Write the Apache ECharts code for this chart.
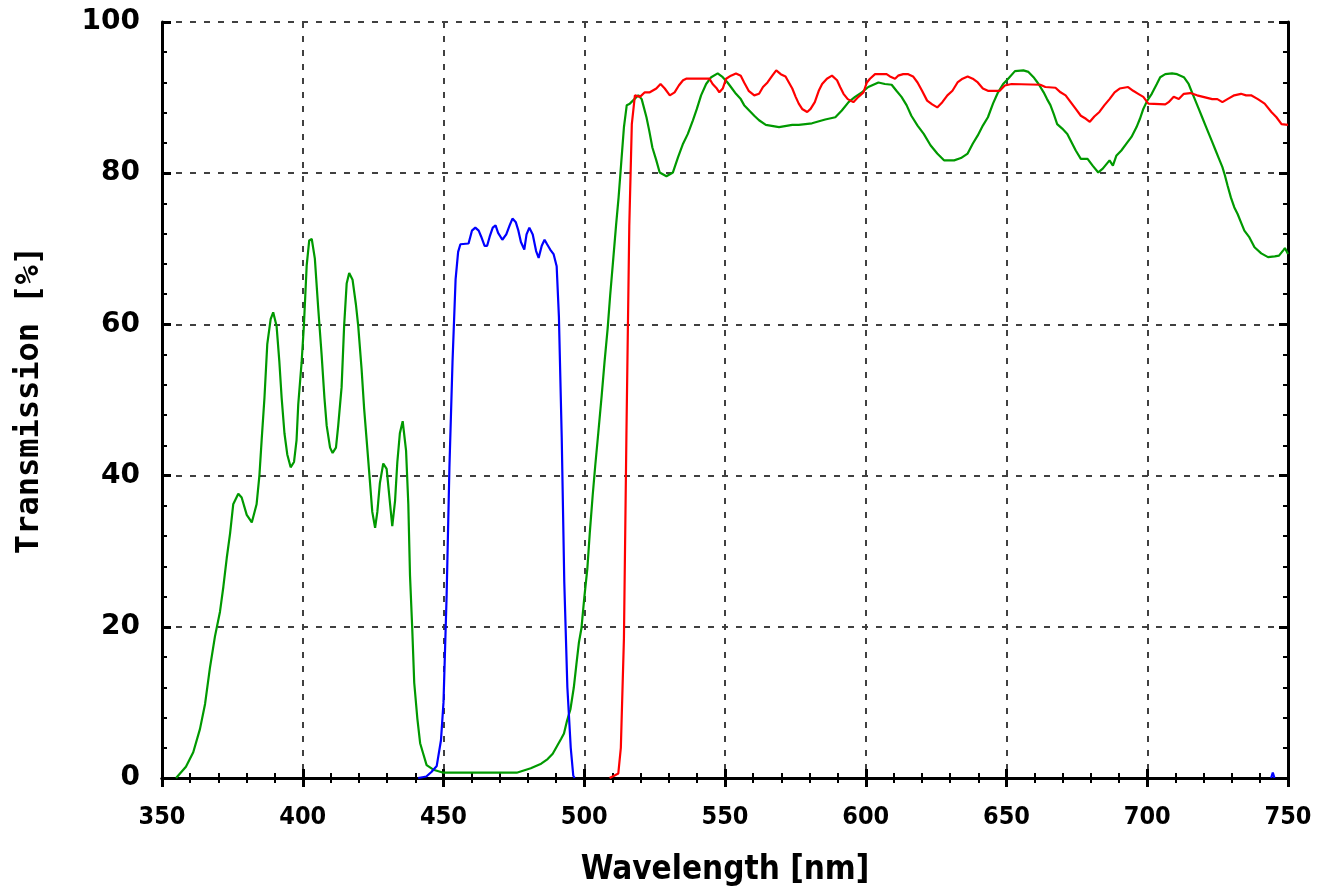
<!DOCTYPE html>
<html>
<head>
<meta charset="utf-8">
<script src="https://cdn.jsdelivr.net/npm/echarts@6/dist/echarts.min.js"></script>
<style>
html,body{margin:0;padding:0;background:#fff;}
#chart{width:1336px;height:886px;}
</style>
</head>
<body>
<div id="chart"></div>
<script>
// Wavelength [nm], Transmission [%]
const xTicks = [350, 400, 450, 500, 550, 600, 650, 700, 750];
const yTicks = [0, 20, 40, 60, 80, 100];

const green = [
[355,0],[356.4,0.6],[358.5,1.5],[361.1,3.4],[363.5,6.5],[365.3,9.8],[367,14.5],[368.8,18.7],[370.6,22],[371.8,25.3],[373,29.1],[374.2,32.4],[375.3,36.2],[377.1,37.6],[378.3,37.1],[380.1,34.8],[381.9,33.8],[383.6,36.2],[384.6,40],[385.4,44.7],[386.4,50.3],[387.4,57.4],[388.6,60.7],[389.5,61.6],[390.7,59.8],[391.7,55],[392.5,50.3],[393.5,45.6],[394.5,42.8],[395.7,41.1],[396.9,41.8],[397.8,44.7],[398.4,49.4],[399.6,55],[400.4,59.8],[401.4,67.8],[402.3,71.1],[403.2,71.3],[404.3,68.7],[405.5,62.1],[406.7,56],[407.7,50.3],[408.5,46.6],[409.7,43.7],[410.6,43],[411.8,43.7],[412.6,46.6],[413.8,51.7],[414.7,59.8],[415.6,65.4],[416.5,66.8],[417.7,65.9],[418.9,62.6],[419.7,59.8],[420.9,54.1],[421.8,48.9],[422.7,44.7],[423.7,40],[424.7,35.2],[425.7,33.1],[426.5,35.2],[427.4,39],[428.6,41.6],[429.8,40.9],[430.8,37.1],[431.8,33.3],[432.8,36.7],[433.6,41.8],[434.5,45.6],[435.5,47.2],[436.7,43.3],[437.5,36.2],[438.1,26.8],[438.9,19.7],[439.6,12.6],[440.7,7.9],[441.7,4.6],[442.8,3.2],[444,1.7],[446.4,1.1],[450,0.7],[476,0.7],[481,1.3],[484.7,1.9],[487,2.5],[488.8,3.2],[490.3,4.2],[491.8,5.2],[492.8,5.9],[493.9,7.6],[495.1,9.1],[496.3,12],[497.2,15],[498.1,17.9],[499,19.8],[500,23.8],[501.1,27.7],[502,32.6],[503,37.4],[503.9,41.3],[505,45.7],[506.2,50.6],[507.2,55],[508.3,59.4],[509.2,63.8],[510.2,68.2],[511.3,73.1],[512.2,76.8],[513.1,81.2],[514.1,86.1],[515.1,89],[516.2,89.2],[519.2,90.3],[520.4,89.8],[522.1,87.4],[523.1,85.6],[524.2,83.4],[525.6,81.7],[526.8,80.1],[529.2,79.6],[531.5,80.1],[533.3,82.1],[535.1,83.9],[536.8,85.2],[538.6,87],[540,88.5],[541.5,90.3],[543.3,91.8],[545.1,92.7],[547.4,93.2],[549.2,92.7],[550.9,92],[552.1,91.4],[553.9,90.5],[555.6,89.8],[556.8,89],[558.6,88.3],[560.4,87.6],[562.1,87],[564.5,86.4],[569.2,86.1],[573.9,86.4],[576.2,86.4],[580.9,86.6],[585.6,87.1],[589.2,87.4],[591.5,88.3],[593.9,89.4],[596.2,90.1],[598.6,90.7],[600.9,91.4],[604.5,92],[606.8,91.8],[609.2,91.7],[610.9,90.9],[612.7,90.1],[614.5,89],[616.2,87.6],[618.4,86.3],[620.6,85.2],[623,83.7],[625.4,82.6],[627.8,81.7],[631.4,81.7],[633.8,82],[636.2,82.6],[638,83.9],[639.8,85],[641.6,86.3],[643.4,87.4],[645.2,89.2],[647,90.7],[648.8,91.8],[650.6,92.5],[653,93.5],[656,93.6],[657.8,93.4],[659.6,92.7],[661.4,91.8],[663.2,90.7],[664.4,89.8],[665.6,89],[666.8,87.8],[668,86.5],[669.8,85.9],[671.6,85.2],[673.1,84.1],[674.6,83],[676.4,81.9],[678.8,81.9],[680.6,81],[682.6,80.1],[684.2,80.6],[686.6,81.7],[687.8,81],[689,82.3],[690.8,83],[692.6,83.9],[694.4,84.8],[696.2,86.1],[697.4,87.2],[698.6,88.5],[700,89.6],[701.6,90.5],[703.4,91.8],[704.6,92.7],[706.4,93.1],[708.8,93.2],[710.6,93.1],[713,92.7],[714.7,91.8],[715.9,90.7],[717.1,89.6],[718.3,88.5],[719.5,87.4],[720.7,86.3],[721.9,85.2],[723.1,84.1],[724.3,83],[725.5,81.9],[726.7,80.8],[727.6,79.7],[728.5,78.4],[729.7,76.8],[730.9,75.5],[732.1,74.6],[733.3,73.5],[734.5,72.4],[736.3,71.5],[738.1,70.2],[740.5,69.4],[742.9,68.9],[745.3,69],[746.8,69.1],[748.3,69.8],[748.9,70.1],[750,69.3]
];

const blue = [
[441,0],[443.9,0.2],[445.7,0.8],[447.6,1.6],[449.1,5],[450,10],[451.1,24],[452.1,41],[453.2,55],[454.3,66],[455.2,69.6],[456,70.6],[458.9,70.7],[460.1,72.4],[461.3,72.8],[462.5,72.4],[463.4,71.6],[464.6,70.4],[465.5,70.4],[466.4,71.6],[467.5,72.8],[468.5,73.1],[469.4,72.1],[470.9,71.2],[472.3,71.9],[473.5,73.1],[474.5,74],[475.7,73.5],[476.6,72.4],[477.5,70.9],[478.7,69.9],[479.5,71.9],[480.5,72.8],[481.7,71.9],[482.9,69.7],[483.8,68.8],[484.9,70.4],[485.9,71.2],[486.8,70.6],[487.9,69.9],[489.1,69.3],[490.2,67.7],[491,61],[492,45],[492.9,26],[494,12],[495.2,4],[496.1,0.3],[496.6,0],
['-','-'],
[744,0],[744.6,0.7],[745.2,0]
];

const red = [
[509,0],[510.6,0.3],[512.1,0.6],[513,4],[514.1,18.5],[515,46],[516,73],[516.9,86.5],[518,90.3],[519.8,90.1],[521.5,90.7],[523.3,90.7],[525.6,91.2],[527.1,91.8],[528.6,91.2],[530.4,90.3],[532.1,90.7],[533.6,91.6],[535.1,92.3],[536.2,92.5],[544.5,92.5],[545.6,91.8],[547.1,91.2],[548,90.7],[549.2,91.2],[550.4,92.5],[552.1,92.9],[553.9,93.2],[555.6,92.9],[556.8,92],[558.4,90.9],[560.4,90.3],[562.1,90.5],[563.5,91.4],[565.1,92],[566.8,92.9],[568.2,93.6],[569.8,93.1],[571.5,92.8],[572.7,92],[573.9,91.2],[575.1,90.1],[576.2,89.2],[577.4,88.5],[579.2,88.1],[580.4,88.5],[581.9,89.4],[583.3,90.9],[584.5,91.8],[586.2,92.5],[588,92.9],[589.8,92.3],[590.9,91.4],[592.1,90.5],[593.6,89.8],[595.6,89.4],[597.4,90.1],[599.2,90.7],[600.4,92],[601.5,92.5],[603.3,93.1],[607.4,93.1],[608.6,92.8],[610.4,92.5],[611.5,92.9],[613.3,93.1],[615.1,93.1],[616.8,92.8],[618.4,92],[620,90.9],[621.8,89.6],[623.6,89.1],[625.4,88.7],[627.2,89.4],[629,90.3],[630.8,90.9],[632.6,92],[634.4,92.5],[636.2,92.8],[638,92.5],[639.8,92],[641.6,91.2],[643.4,90.9],[647.6,90.9],[649.4,91.6],[651.8,91.8],[662,91.7],[663.8,91.4],[667.4,91.3],[669.2,90.7],[671,90.3],[672.8,89.4],[674.6,88.5],[676.4,87.6],[678.2,87.2],[679.6,86.8],[681.2,87.5],[683,88.1],[684.8,89],[686.6,89.8],[688.4,90.7],[690.2,91.2],[693.2,91.4],[695,90.9],[696.8,90.5],[698.6,90.1],[700.4,89.2],[706.4,89.1],[707.6,89.4],[709.4,90.1],[711.2,89.8],[713,90.5],[715.3,90.6],[717.7,90.3],[723.1,89.8],[724.9,89.8],[726.7,89.4],[728.5,89.8],[730.9,90.3],[733.3,90.5],[735.1,90.3],[736.9,90.3],[739.3,89.8],[741.7,89.2],[744.1,88.1],[745.9,87.4],[747.7,86.5],[750,86.4]
];

const chart = echarts.init(document.getElementById('chart'), null, {renderer: 'canvas'});

const gridLine = {show: true, lineStyle: {color: '#404040', width: 2, type: [6, 8]}};
const axLine = {show: true, lineStyle: {color: '#000', width: 3}};
const narrowFont = "'DejaVu Sans Condensed', 'DejaVu Sans', sans-serif";

const xBase = {
  type: 'value', min: xTicks[0], max: xTicks[xTicks.length - 1], interval: 50
};
const yBase = {
  type: 'value', min: yTicks[0], max: yTicks[yTicks.length - 1], interval: 20
};

chart.setOption({
  animation: false,
  backgroundColor: '#fff',
  grid: {left: 162, right: 48, top: 22, bottom: 108, containLabel: false, outerBoundsMode: 'none'},
  xAxis: [
    Object.assign({}, xBase, {
      position: 'bottom',
      name: 'Wavelength [nm]',
      nameLocation: 'middle',
      nameGap: 76,
      nameTextStyle: {fontFamily: narrowFont, fontWeight: 'bold', fontSize: 33, color: '#000'},
      axisLine: axLine,
      axisTick: {show: true, inside: true, length: 9, lineStyle: {color: '#000', width: 3}},
      minorTick: {show: true, splitNumber: 5, length: 5, lineStyle: {color: '#000', width: 2}},
      axisLabel: {show: true, margin: 27, fontFamily: narrowFont, fontWeight: 'bold', fontSize: 25, color: '#000',
        formatter: v => xTicks.includes(v) ? String(v) : ''},
      splitLine: gridLine
    }),
    Object.assign({}, xBase, {
      position: 'top',
      axisLine: axLine,
      axisTick: {show: true, inside: true, length: 9, lineStyle: {color: '#000', width: 3}},
      minorTick: {show: true, splitNumber: 5, length: 5, lineStyle: {color: '#000', width: 2}},
      axisLabel: {show: false},
      splitLine: {show: false}
    })
  ],
  yAxis: [
    Object.assign({}, yBase, {
      position: 'left',
      name: 'Transmission [%]',
      nameLocation: 'middle',
      nameGap: 116,
      nameTextStyle: {fontFamily: 'DejaVu Sans Mono', fontWeight: 'bold', fontSize: 32, color: '#000'},
      axisLine: axLine,
      axisTick: {show: true, inside: true, length: 9, lineStyle: {color: '#000', width: 3}},
      minorTick: {show: true, splitNumber: 5, length: 5, lineStyle: {color: '#000', width: 2}},
      axisLabel: {show: true, margin: 22, fontFamily: 'DejaVu Sans', fontWeight: 'bold', fontSize: 28, color: '#000',
        formatter: v => yTicks.includes(v) ? String(v) : ''},
      splitLine: gridLine
    }),
    Object.assign({}, yBase, {
      position: 'right',
      axisLine: axLine,
      axisTick: {show: true, inside: true, length: 9, lineStyle: {color: '#000', width: 3}},
      minorTick: {show: true, splitNumber: 5, length: 5, lineStyle: {color: '#000', width: 2}},
      axisLabel: {show: false},
      splitLine: {show: false}
    })
  ],
  series: [
    {name: 'green', type: 'line', data: green, showSymbol: false, symbol: 'none', connectNulls: false,
      lineStyle: {color: '#009900', width: 2.2}, itemStyle: {color: '#009900'}, z: 3},
    {name: 'blue', type: 'line', data: blue, showSymbol: false, symbol: 'none', connectNulls: false,
      lineStyle: {color: '#0000ff', width: 2.2}, itemStyle: {color: '#0000ff'}, z: 4},
    {name: 'red', type: 'line', data: red, showSymbol: false, symbol: 'none', connectNulls: false,
      lineStyle: {color: '#ff0000', width: 2.2}, itemStyle: {color: '#ff0000'}, z: 5}
  ]
});
</script>
</body>
</html>
